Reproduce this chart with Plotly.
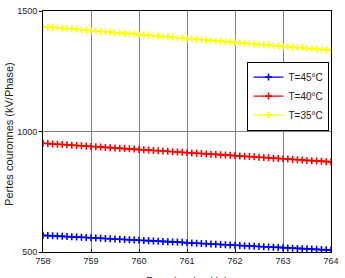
import plotly.graph_objects as go

pression = [758.0, 758.1, 758.2, 758.3, 758.4, 758.5, 758.6, 758.7, 758.8, 758.9,
            759.0, 759.1, 759.2, 759.3, 759.4, 759.5, 759.6, 759.7, 759.8, 759.9,
            760.0, 760.1, 760.2, 760.3, 760.4, 760.5, 760.6, 760.7, 760.8, 760.9,
            761.0, 761.1, 761.2, 761.3, 761.4, 761.5, 761.6, 761.7, 761.8, 761.9,
            762.0, 762.1, 762.2, 762.3, 762.4, 762.5, 762.6, 762.7, 762.8, 762.9,
            763.0, 763.1, 763.2, 763.3, 763.4, 763.5, 763.6, 763.7, 763.8, 763.9,
            764.0]

t45 = [569, 568, 567, 566, 565, 564, 563, 562, 561, 560,
       559, 558, 557, 556, 555, 554, 553, 552, 551, 550,
       549, 548, 547, 546, 545, 544, 543, 542, 541, 540,
       538, 537, 536, 535, 534, 533, 532, 531, 530, 529,
       528, 527, 526, 525, 524, 523, 522, 521, 520, 519,
       518, 517, 516, 515, 514, 513, 512, 511, 510, 509,
       508]

t40 = [951, 950, 948, 947, 946, 945, 943, 942, 941, 939,
       938, 937, 936, 934, 933, 932, 930, 929, 928, 927,
       925, 924, 923, 921, 920, 919, 918, 916, 915, 914,
       912, 911, 910, 909, 907, 906, 905, 904, 902, 901,
       900, 898, 897, 896, 895, 893, 892, 891, 889, 888,
       887, 886, 884, 883, 882, 880, 879, 878, 877, 875,
       874]

t35 = [1435, 1433, 1432, 1430, 1428, 1427, 1425, 1424, 1422, 1420,
       1419, 1417, 1415, 1414, 1412, 1410, 1409, 1407, 1406, 1404,
       1402, 1401, 1399, 1397, 1396, 1394, 1392, 1391, 1389, 1388,
       1386, 1384, 1383, 1381, 1379, 1378, 1376, 1375, 1373, 1371,
       1370, 1368, 1366, 1365, 1363, 1361, 1360, 1358, 1357, 1355,
       1353, 1352, 1350, 1348, 1347, 1345, 1344, 1342, 1340, 1339,
       1337]

series = [("T=45°C", t45, "#0000ff"), ("T=40°C", t40, "#ff0000"), ("T=35°C", t35, "#ffff00")]

x_ticks = [758, 759, 760, 761, 762, 763, 764]
y_ticks = [500, 1000, 1500]

fig = go.Figure()
for name, vals, col in series:
    fig.add_trace(go.Scatter(
        x=pression, y=vals, name=name, mode="lines+markers",
        line=dict(color=col, width=1.2),
        marker=dict(symbol="cross-thin", size=5, line=dict(color=col, width=1.6), color=col),
    ))

tick_font = dict(family="Liberation Sans, Arial", size=9, color="#222")

fig.update_layout(
    width=345, height=278,
    margin=dict(l=43, r=8, t=6, b=26),
    paper_bgcolor="white", plot_bgcolor="white",
    font=dict(family="Liberation Sans, Arial", size=10, color="#222"),
    showlegend=True,
    legend=dict(x=0.71, y=0.79, xanchor="left", yanchor="top",
                bgcolor="white", bordercolor="black", borderwidth=1,
                font=dict(size=10, color="#222"), tracegroupgap=2, itemwidth=30),
    annotations=[
        dict(text="Pression (cmHg)", xref="paper", yref="paper", x=0.5, y=-0.089,
             xanchor="center", yanchor="top", showarrow=False, font=dict(size=11)),
        dict(text="Pertes couronnes (kV/Phase)", xref="paper", yref="paper",
             x=-0.118, y=0.49, textangle=-90, xanchor="center", yanchor="middle",
             showarrow=False, font=dict(size=11)),
    ],
)
fig.update_xaxes(range=[758, 764], tickvals=x_ticks, showgrid=True, gridcolor="#808080",
                 gridwidth=1, showline=True, linecolor="black", linewidth=1, mirror=True,
                 ticks="inside", ticklen=3, tickcolor="black", zeroline=False,
                 ticklabeloverflow="allow", tickfont=tick_font)
fig.update_yaxes(range=[500, 1500], tickvals=y_ticks, showgrid=True, gridcolor="#808080",
                 gridwidth=1, showline=True, linecolor="black", linewidth=1, mirror=True,
                 ticks="outside", ticklen=3, tickcolor="black", zeroline=False,
                 tickfont=tick_font)

fig.write_html("out.html")
